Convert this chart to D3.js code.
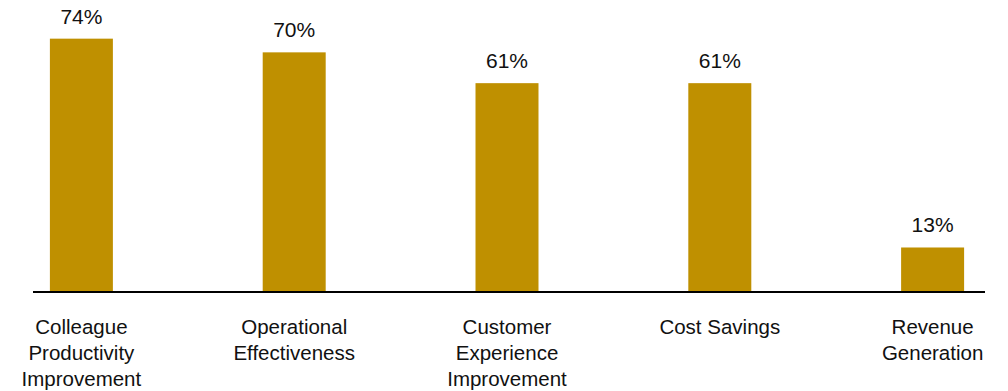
<!DOCTYPE html>
<meta charset="utf-8">
<script src="https://d3js.org/d3.v7.min.js"></script>
<style>
  body { margin: 0; background: #fff; }
  text { font-family: Arial, "Liberation Sans", sans-serif; fill: #111; }
</style>
<div id="chart"></div>
<script>
// chart data
const categories = [
  ["Colleague", "Productivity", "Improvement"],
  ["Operational", "Effectiveness"],
  ["Customer", "Experience", "Improvement"],
  ["Cost Savings"],
  ["Revenue", "Generation"]
];
const values = [74, 70, 61, 61, 13];
const valueLabels = ["74%", "70%", "61%", "61%", "13%"];

const width = 1008, height = 391;
const baseY = 292;

const svg = d3.select("#chart")
  .append("svg")
  .attr("width", width)
  .attr("height", height);

const x = d3.scaleBand()
  .domain(d3.range(values.length))
  .range([35, 979])
  .paddingInner(0.704)
  .paddingOuter(0.07);

const y = d3.scaleLinear()
  .domain([0, 85])
  .range([baseY, 1]);

// bars
svg.append("g")
  .selectAll("rect")
  .data(values)
  .join("rect")
    .attr("x", (d, i) => x(i))
    .attr("y", d => y(d))
    .attr("width", x.bandwidth())
    .attr("height", d => baseY - y(d))
    .attr("fill", "#bf9000");

// value labels
svg.append("g")
  .selectAll("text")
  .data(values)
  .join("text")
    .attr("x", (d, i) => x(i) + x.bandwidth() / 2)
    .attr("y", d => y(d) - 15)
    .attr("text-anchor", "middle")
    .style("font-size", "21px")
    .text((d, i) => valueLabels[i]);

// baseline
svg.append("line")
  .attr("x1", 33).attr("x2", 985)
  .attr("y1", baseY).attr("y2", baseY)
  .attr("stroke", "#000")
  .attr("stroke-width", 2);

// category labels
const cat = svg.append("g")
  .selectAll("text")
  .data(categories)
  .join("text")
    .attr("text-anchor", "middle")
    .attr("transform", (d, i) => `translate(${x(i) + x.bandwidth() / 2}, 334)`)
    .style("font-size", "20.5px");

cat.selectAll("tspan")
  .data(d => d)
  .join("tspan")
    .attr("x", 0)
    .attr("y", (d, j) => j * 26)
    .text(d => d);
</script>
